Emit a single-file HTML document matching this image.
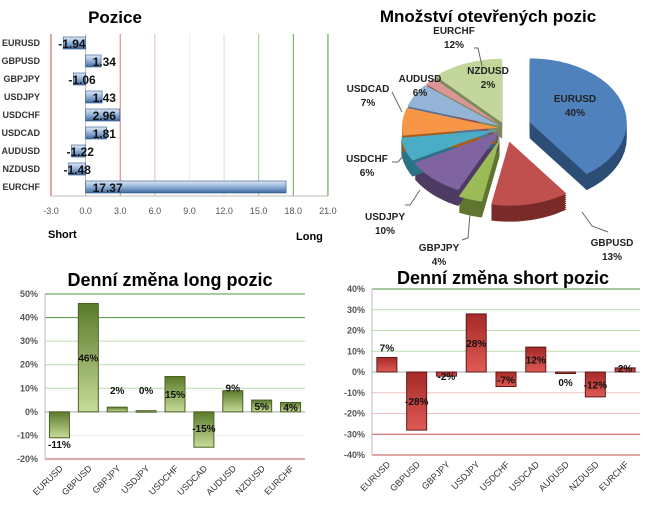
<!DOCTYPE html>
<html><head><meta charset="utf-8"><style>
body{margin:0;background:#fff;width:645px;height:508px;overflow:hidden;font-family:"Liberation Sans",sans-serif}
svg{position:absolute;left:0;top:0}
text{font-family:"Liberation Sans",sans-serif}
</style></head><body>
<svg id="s" width="645" height="508">
<defs>
<linearGradient id="gb" x1="0" y1="0" x2="0" y2="1"><stop offset="0" stop-color="#dfe9f5"/><stop offset="0.5" stop-color="#8fb0d6"/><stop offset="1" stop-color="#3d679b"/></linearGradient>
<linearGradient id="gg" x1="0" y1="0" x2="0" y2="1"><stop offset="0" stop-color="#5b7a2b"/><stop offset="1" stop-color="#c6dc98"/></linearGradient>
<linearGradient id="gr" x1="0" y1="0" x2="0" y2="1"><stop offset="0" stop-color="#a52a28"/><stop offset="1" stop-color="#e05a55"/></linearGradient>
</defs>
</svg>
<script>
// Chart 1: Pozice
const posCats=["EURUSD","GBPUSD","GBPJPY","USDJPY","USDCHF","USDCAD","AUDUSD","NZDUSD","EURCHF"];
const posVals=[-1.94,1.34,-1.06,1.43,2.96,1.81,-1.22,-1.48,17.37];
const posTicks=[-3,0,3,6,9,12,15,18,21];
const posTickLabels=["-3.0","0.0","3.0","6.0","9.0","12.0","15.0","18.0","21.0"];
// Chart 2: pie
const pieCats=["EURUSD","GBPUSD","GBPJPY","USDJPY","USDCHF","USDCAD","AUDUSD","EURCHF","NZDUSD"];
const pieVals=[40,13,4,10,6,7,6,2,12];
// Chart 3: long changes
const longVals=[-11,46,2,0.5,15,-15,9,5,4];
const longLabels=["-11%","46%","2%","0%","15%","-15%","9%","5%","4%"];
const longTicks=[50,40,30,20,10,0,-10,-20];
// Chart 4: short changes
const shortVals=[7,-28,-2,28,-7,12,-0.5,-12,2];
const shortLabels=["7%","-28%","-2%","28%","-7%","12%","0%","-12%","2%"];
const shortTicks=[40,30,20,10,0,-10,-20,-30,-40];
const cats=posCats;

const S=document.getElementById('s');const NS='http://www.w3.org/2000/svg';
function el(t,a,txt){const e=document.createElementNS(NS,t);for(const k in a)e.setAttribute(k,a[k]);if(txt!==undefined)e.textContent=txt;S.appendChild(e);return e;}

// ---- chart 1
el('text',{x:115,y:23,'font-size':17,'font-weight':'bold','text-anchor':'middle',},'Pozice');
const px=v=>85.6+(v)*11.54, py=i=>43+i*18;
const gcol={"-3":"#c0504d","0":"#bbb","3":"#d77","6":"#f0b8b8","9":"#eee","12":"#cfe3c4","15":"#9bc98b","18":"#5aa64a","21":"#4a9a3c"};
posTicks.forEach((t,i)=>{
 let g=el('line',{x1:px(t),x2:px(t),y1:34,y2:196,stroke:gcol[t],'stroke-width':1});
 
 let l=el('text',{x:px(t),y:214,'font-size':9,fill:'#555','text-anchor':'middle'},posTickLabels[i]);
 
});
el('line',{x1:51,x2:328,y1:196,y2:196,stroke:'#bbb'});
posCats.forEach((c,i)=>{
 const y=py(i),v=posVals[i],x0=Math.min(px(0),px(v)),w=Math.abs(px(v)-px(0));
 let l=el('text',{x:40,y:y+3,'font-size':9,'font-weight':'bold',fill:'#333','text-anchor':'end'},c);
 
 let b=el('rect',{x:x0,y:y-6,width:w,height:12,fill:'url(#gb)',stroke:'#2e5586','stroke-width':0.6});
 
 let t=el('text',{x:v<0?px(v)-5:px(0)+7,y:y+5,'font-size':12,'font-weight':'bold',fill:'#111'},v.toFixed(2));
 
});
el('text',{x:48,y:238,'font-size':11,'font-weight':'bold',},'Short');
el('text',{x:296,y:240,'font-size':11,'font-weight':'bold',},'Long');

// ---- chart 2 pie
el('text',{x:488,y:22,'font-size':17,'font-weight':'bold','text-anchor':'middle',},'Množství otevřených pozic');
const cols=["#4f81bd","#c0504d","#9bbb59","#8064a2","#4bacc6","#f79646","#95b3d7","#d99694","#c3d69b"];
const dark=["#2c4d75","#7a2b29","#5f7530","#4d3b63","#2c7286","#a95c1c","#5a7196","#8a5250","#7b8a5d"];
const cx=505,cy=128,rx=97,ry=64,dep=16;
const explode=[26,20,16,8,8,6,6,6,8];
const tot=pieVals.reduce((a,b)=>a+b,0);
let a0=-Math.PI/2;const slices=[];
pieVals.forEach((v,i)=>{const a1=a0+v/tot*2*Math.PI;slices.push([a0,a1]);a0=a1;});
function slicePath(i,dy){const [s,e]=slices[i];const m=(s+e)/2;const ex=explode[i];
 const ox=cx+ex*Math.cos(m),oy=cy+ex*0.7*Math.sin(m)+dy;
 let d=`M${ox},${oy}`;const n=24;for(let k=0;k<=n;k++){const a=s+(e-s)*k/n;d+=`L${ox+rx*Math.cos(a)},${oy+ry*Math.sin(a)}`;}return d+'Z';}
pieVals.forEach((v,i)=>{for(let k=dep;k>0;k-=2){let p=el('path',{d:slicePath(i,k),fill:dark[i]});}});
pieVals.forEach((v,i)=>{let p=el('path',{d:slicePath(i,0),fill:cols[i]});});
const pl=[["EURUSD","40%",575,102],["GBPUSD","13%",612,246],["GBPJPY","4%",439,251],["USDJPY","10%",385,220],["USDCHF","6%",367,162],["USDCAD","7%",368,92],["AUDUSD","6%",420,82],["EURCHF","12%",454,34],["NZDUSD","2%",488,74]];
pl.forEach(p=>{let t=el('text',{x:p[2],y:p[3],'font-size':10,'font-weight':'bold',fill:'#222','text-anchor':'middle'},p[0]);
 let t2=el('text',{x:p[2],y:p[3]+14,'font-size':10,'font-weight':'bold',fill:'#222','text-anchor':'middle'},p[1]);});
[[582,212,592,226,608,232],[470,214,468,238,462,240],[420,190,410,205,405,205],[404,155,398,162,392,162],[402,112,396,100,392,92],[474,48,478,48,482,66]].forEach(q=>el('polyline',{points:q.join(','),fill:'none',stroke:'#666','stroke-width':1}));

// ---- bar change charts
function changeChart(vals,labels,ticks,x0,x1,ytop,ybot,vmax,vmin,grad,stroke,gridFn,title,tx,ty,nm){
 el('text',{x:tx,y:ty,'font-size':18,'font-weight':'bold','text-anchor':'middle',},title);
 const y=v=>ytop+(vmax-v)/(vmax-vmin)*(ybot-ytop);
 ticks.forEach(t=>{let g=el('line',{x1:x0,x2:x1,y1:y(t),y2:y(t),stroke:gridFn(t),'stroke-width':1});
  let l=el('text',{x:x0-7,y:y(t)+3,'font-size':9,'font-weight':'bold',fill:'#555','text-anchor':'end'},t+'%');});
 el('line',{x1:x0,x2:x0,y1:ytop,y2:ybot,stroke:'#bbb'});
 el('line',{x1:x0,x2:x1,y1:y(0),y2:y(0),stroke:'#aaa'});
 const cw=(x1-x0)/vals.length;
 vals.forEach((v,i)=>{const cx=x0+cw*(i+0.5),ya=Math.min(y(0),y(v)),h=Math.max(Math.abs(y(v)-y(0)),1.5);
  let b=el('rect',{x:cx-10,y:ya,width:20,height:h,fill:grad,stroke:stroke,'stroke-width':1});
  let ly=Math.abs(v)<3?(v>=0?y(0)-18:y(0)+10):(ya+h/2+4);
  if(nm=='long'&&(v<-5))ly=y(v)+10; if(nm=='long'&&labels[i]=='-15%')ly=y(0)+20; if(nm=='long'&&labels[i]=='9%')ly=y(v)+1;if(nm=='short'&&labels[i]=='7%')ly=y(v)-6;if(nm=='short'&&(labels[i]=='-2%'||labels[i]=='2%'))ly=y(v)+4;if(nm=='short'&&labels[i]=='0%')ly=y(0)+14;
  let t=el('text',{x:cx,y:ly,'font-size':10,'font-weight':'bold',fill:'#111','text-anchor':'middle'},labels[i]);
  let c=el('text',{x:cx+4,y:ybot+10,'font-size':9,fill:'#333','text-anchor':'end',transform:`rotate(-45 ${cx+4} ${ybot+10})`},cats[i]);
 });
}
changeChart(longVals,longLabels,longTicks,45,305,294,459,50,-20,'url(#gg)','#4a6123',t=>t==-20?'#c0504d':(t>=40?'#4a9a3c':(t>0?'#bcdcb0':'#eee')),'Denní změna long pozic',170,286,'long');
changeChart(shortVals,shortLabels,shortTicks,372,640,289,455,40,-40,'url(#gr)','#5c1a19',t=>t==40?'#4a9a3c':(t>0?'#bcdcb0':(t==0?'#aaa':(t<=-30?'#c0504d':'#f0c0c0'))),'Denní změna short pozic',503,284,'short');
</script>
</body></html>
